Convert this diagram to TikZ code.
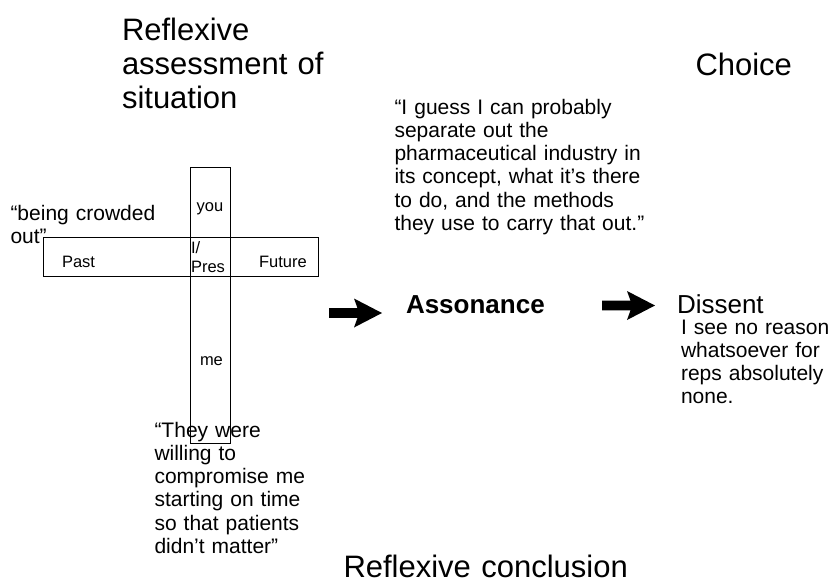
\documentclass[tikz,border=0pt]{standalone}
\usepackage{fontspec}
\setmainfont{Liberation Sans}
\begin{document}
\begin{tikzpicture}[x=1pt,y=-1pt,
  every node/.style={inner sep=0pt,outer sep=0pt},
  txt/.style={anchor=base west,align=left,text width=400pt},
  big/.style={txt,font=\fontsize{31}{34}\selectfont},
  quote/.style={txt,font=\fontsize{21}{23.3}\selectfont},
  head/.style={txt,font=\fontsize{26}{30}\selectfont},
  label/.style={font=\fontsize{16.5}{19}\selectfont},
  bar/.style={draw,line width=0.9pt},
  pics/blockarrow/.style={code={
    \fill (0,0) -- (-28,-14.5) -- (-24.5,-4.8) -- (-53,-4.8)
      -- (-53,4.8) -- (-24.5,4.8) -- (-28,14.5) -- cycle;}}]
\useasboundingbox (0,0) rectangle (833,582);

% headings
\node[big] (assess) at (122,40) {Reflexive\\assessment of\\situation};
\node[big] (choice) at (695.5,75) {Choice};
\node[big] (concl) at (343.5,577) {Reflexive conclusion};

% the cross of time and person
\node[bar,minimum width=275pt,minimum height=39pt] (timebar) at (180.5,256.5) {};
\node[bar,minimum width=40pt,minimum height=276pt] (selfbar) at (210,305) {};
\node[label,anchor=base] (you) at (210,211) {you};
\node[label,anchor=base west] (past) at (62,267) {Past};
\node[label,anchor=base west] (future) at (259,267) {Future};
\node[label,txt,text width=40pt] (pres) at (191,253) {I/\\Pres};
\node[label,anchor=base west] (me) at (200,365) {me};

% quotations
\node[quote] (crowded) at (10.5,220) {“being crowded\\out”};
\node[quote] (willing) at (154.5,437) {“They were\\willing to\\compromise me\\starting on time\\so that patients\\didn’t matter”};
\node[quote] (guess) at (394.5,114) {“I guess I can probably\\separate out the\\pharmaceutical industry in\\its concept, what it’s there\\to do, and the methods\\they use to carry that out.”};

% outcome
\node[head,font=\bfseries\fontsize{26}{30}\selectfont] (asson) at (406,313) {Assonance};
\node[head] (dissent) at (677,313) {Dissent};
\node[quote] (reason) at (681,334) {I see no reason\\whatsoever for\\reps absolutely\\none.};

% block arrows
\coordinate (tip1) at (382,313);
\coordinate (tip2) at (655,305.5);
\pic at (tip1) {blockarrow};
\pic at (tip2) {blockarrow};
\end{tikzpicture}
\end{document}
